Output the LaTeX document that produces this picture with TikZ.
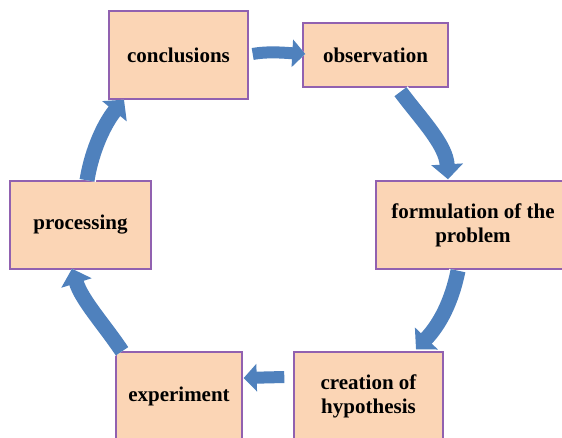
\documentclass[tikz,border=0pt]{standalone}
\usepackage{fontspec}
\setmainfont{Liberation Serif}
\usetikzlibrary{arrows.meta,calc}
\definecolor{peach}{HTML}{FBD5B5}
\definecolor{boxline}{HTML}{9161B0}
\definecolor{arrblue}{HTML}{4F81BD}
\tikzset{
  stagebox/.style={draw=boxline, line width=1.4pt, fill=peach, inner sep=0pt,
    align=center, font=\fontsize{21}{24}\selectfont\bfseries},
  flow/.style={draw=arrblue, line width=15pt,
    -{Triangle[width=31pt,length=15pt]},
    preaction={draw=white, line width=18pt, -{Triangle[width=36pt,length=18pt]}}},
  flowsmall/.style={draw=arrblue, line width=12pt,
    -{Triangle[width=27pt,length=13pt]},
    preaction={draw=white, line width=14.5pt, -{Triangle[width=32pt,length=16pt]}}}
}
\begin{document}
\begin{tikzpicture}[x=1pt,y=-1pt]
\useasboundingbox (0,0) rectangle (562,438);
\clip (0,0) rectangle (562,438);
\node[stagebox, minimum width=139pt, minimum height=88pt] (concl) at (178.5,55) {conclusions};
\node[stagebox, minimum width=145pt, minimum height=64pt] (obs) at (375.5,55) {observation};
\node[stagebox, minimum width=194pt, minimum height=88pt] (form) at (473,225) {formulation of the\\problem};
\node[stagebox, minimum width=149pt, minimum height=88pt] (creat) at (368.5,396) {creation of\\hypothesis};
\node[stagebox, minimum width=126pt, minimum height=88pt] (exper) at (179,396) {experiment};
\node[stagebox, minimum width=141pt, minimum height=88pt] (proc) at (80.5,225) {processing};
% arrows
\draw[flowsmall] ($(concl.east)+(4,-1)$) .. controls +(16,-3) and +(-18,-1) .. ($(obs.west)+(3,-1)$);
\draw[flow] ($(obs.south)+(25,4)$) .. controls +(20,27) and +(-2,-35) .. ($(form.north)+(-25,-1)$);
\draw[flow] ($(form.south)+(-15,1)$) .. controls +(-6,30) and +(24,-25) .. ($(creat.north)+(47.5,-2)$);
\draw[flowsmall] ($(creat.west)+(-9,-19)$) -- ($(exper.east)+(1,-18)$);
\draw[flow] ($(exper.north)+(-57,0)$) .. controls +(-18,-27) and +(10,32) .. ($(proc.south)+(-8.5,-1)$);
\draw[flow] ($(proc.north)+(6.5,0)$) .. controls +(5,-31) and +(-19,23) .. ($(concl.south)+(-54.5,0)$);
\end{tikzpicture}
\end{document}
